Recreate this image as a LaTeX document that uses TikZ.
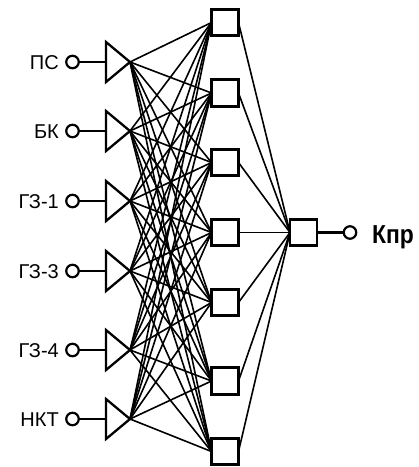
\documentclass[tikz,border=0pt]{standalone}
\usepackage{fontspec}
\setmainfont{Liberation Sans}
\usetikzlibrary{shapes.geometric}
\tikzset{
  cell/.style={draw, rectangle, line width=2.8pt, minimum width=27pt, minimum height=26.5pt, inner sep=0pt, outer sep=0pt},
  amp/.style={draw, isosceles triangle, isosceles triangle stretches, shape border rotate=0,
              minimum width=40pt, minimum height=24pt, inner sep=0pt, outer sep=0pt, line width=2.3pt},
  pin/.style={draw, circle, line width=2.2pt, minimum size=12.5pt, inner sep=0pt, outer sep=0pt},
  lead/.style={line width=2.6pt},
  wire/.style={line width=1.6pt},
  inlabel/.style={font=\fontsize{20}{20}\selectfont, inner sep=0pt, anchor=base east},
}
\begin{document}
\begin{tikzpicture}[x=1pt, y=-1pt]
  \useasboundingbox (0,0) rectangle (419,467);

  % input channels: label, terminal, amplifier
  \foreach \n/\y/\t in {1/62/ПС, 2/131/БК, 3/201/ГЗ-1, 4/271/ГЗ-3, 5/350/ГЗ-4, 6/419/НКТ} {
    \node[inlabel] (lab\n) at (59,\y+7) {\t};
    \node[pin] (pin\n) at (72.5,\y) {};
    \node[amp, anchor=apex] (amp\n) at (130,\y) {};
    \draw[lead] (pin\n.east) -- (amp\n.west);
  }

  % hidden layer
  \foreach \m/\y in {1/22.5, 2/93, 3/162.5, 4/232.5, 5/302.5, 6/381, 7/451.5} {
    \node[cell] (hid\m) at (225,\y) {};
  }

  % output neuron and terminal
  \node[cell] (outc) at (303.5,232.5) {};
  \node[pin] (outpin) at (350,232.5) {};
  \draw[lead] (outc.east) -- (outpin.west);
  \node[font=\fontsize{26}{26}\selectfont\bfseries, xscale=0.88, inner sep=0pt, anchor=base west] (outlab) at (372,243) {Кпр};

  % full connections input -> hidden
  \foreach \n in {1,...,6} {
    \foreach \m in {1,...,7} {
      \draw[wire] (amp\n.apex) -- (hid\m.west);
    }
  }
  % hidden -> output
  \foreach \m in {1,...,7} {
    \draw[wire] (hid\m.east) -- (outc.west);
  }
\end{tikzpicture}
\end{document}
